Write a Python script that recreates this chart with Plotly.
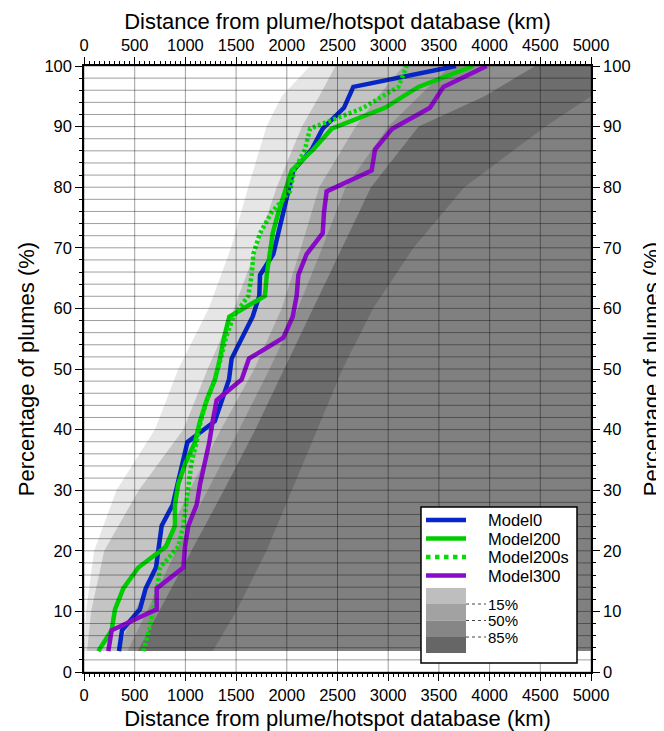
import plotly.graph_objects as go

# ---------------- data ----------------
PCT = [3.45, 6.90, 10.34, 13.79, 17.24, 20.69, 24.14, 27.59, 31.03, 34.48,
       37.93, 41.38, 44.83, 48.28, 51.72, 55.17, 58.62, 62.07, 65.52, 68.97,
       72.41, 75.86, 79.31, 82.76, 86.21, 89.66, 93.10, 96.55, 100.0]

MODEL0 = [345, 375, 552, 608, 710, 743, 766, 875, 925, 975,
          1020, 1290, 1358, 1430, 1456, 1565, 1663, 1729, 1736, 1867,
          1917, 1959, 2015, 2064, 2245, 2354, 2564, 2656, 3669]
MODEL200 = [141, 273, 306, 388, 536, 809, 897, 897, 930, 1000,
            1095, 1144, 1210, 1292, 1341, 1381, 1433, 1785, 1802, 1828,
            1861, 1917, 1982, 2048, 2261, 2442, 2968, 3297, 3839]
MODEL200S = [585, 641, 684, 723, 750, 930, 980, 1006, 1030, 1060,
             1111, 1151, 1210, 1292, 1348, 1400, 1473, 1620, 1654, 1670,
             1736, 1851, 2031, 2074, 2179, 2229, 2755, 3100, 3183]
MODEL300 = [240, 273, 717, 717, 980, 996, 1029, 1111, 1145, 1190,
            1236, 1269, 1308, 1555, 1627, 1966, 2058, 2097, 2114, 2196,
            2354, 2367, 2393, 2837, 2870, 3040, 3412, 3544, 3971]

# random-model envelope: left edges of the shaded bands at these percentages
BAND_Y = [3.45, 10, 20, 30, 40, 50, 60, 70, 80, 90, 95, 100]
EDGE_FAINT = [0, 20, 100, 320, 700, 930, 1230, 1450, 1620, 1800, 1950, 2230]
EDGE_LIGHT = [30, 70, 200, 540, 980, 1220, 1480, 1700, 1900, 2150, 2320, 2480]
EDGE_P15 = [330, 500, 760, 1040, 1350, 1680, 1950, 2140, 2320, 2680, 2900, 3150]
EDGE_P50 = [430, 620, 910, 1220, 1530, 1830, 2110, 2350, 2580, 3000, 3300, 3610]
EDGE_P85 = [530, 740, 1060, 1380, 1690, 1975, 2260, 2540, 2830, 3300, 3950, 4450]
EDGE_DENSE_END = [1270, 1500, 1800, 2050, 2300, 2550, 2850, 3250, 3750, 4550, 5000, 5000]

X_TICKS = [0, 500, 1000, 1500, 2000, 2500, 3000, 3500, 4000, 4500, 5000]
Y_TICKS = [0, 10, 20, 30, 40, 50, 60, 70, 80, 90, 100]
X_RANGE = [0, 5000]
Y_RANGE = [0, 100]

SERIES = [
    ("Model0", MODEL0, "#0626c8", "solid"),
    ("Model200", MODEL200, "#00cc00", "solid"),
    ("Model200s", MODEL200S, "#00dd00", "3px,2.5px"),
    ("Model300", MODEL300, "#8a0cc8", "solid"),
]
BAND_LABELS = ["15%", "50%", "85%"]

# ---------------- figure ----------------
FONT = "Liberation Sans, Arial, Helvetica, sans-serif"
fig = go.Figure()

xmax = X_RANGE[1]
bands = [
    (EDGE_FAINT, "#e6e6e6"),
    (EDGE_LIGHT, "#c4c4c4"),
    (EDGE_P15, "#a7a7a7"),
    (EDGE_P50, "#8e8e8e"),
    (EDGE_P85, "#6d6d6d"),
    (EDGE_DENSE_END, "#808080"),
]
for edge, col in bands:
    fig.add_trace(go.Scatter(
        x=list(edge) + [xmax, xmax], y=list(BAND_Y) + [BAND_Y[-1], BAND_Y[0]],
        fill="toself", fillcolor=col, mode="lines", line=dict(width=0),
        hoverinfo="skip", showlegend=False))

# grid lines (drawn over the shading)
y_grid = list(range(Y_RANGE[0], Y_RANGE[1] + 1, 2))
gx, gy = [], []
for v in y_grid:
    gx += [X_RANGE[0], X_RANGE[1], None]
    gy += [v, v, None]
fig.add_trace(go.Scatter(x=gx, y=gy, mode="lines", yaxis="y2",
                         line=dict(color="rgba(0,0,0,0.38)", width=1),
                         hoverinfo="skip", showlegend=False))
vx, vy = [], []
for v in X_TICKS:
    vx += [v, v, None]
    vy += [Y_RANGE[0], Y_RANGE[1], None]
fig.add_trace(go.Scatter(x=vx, y=vy, mode="lines", xaxis="x2",
                         line=dict(color="rgba(0,0,0,0.38)", width=1),
                         hoverinfo="skip", showlegend=False))

for name, xs, col, dash in SERIES:
    fig.add_trace(go.Scatter(x=xs, y=PCT, mode="lines", name=name,
                             line=dict(color=col, width=4.5, dash=dash),
                             showlegend=False))

# ---------------- custom legend ----------------
def px_x(p):
    return (p - 84) / 507.0

def px_y(p):
    return (672 - p) / 606.0

shapes = [dict(type="rect", xref="paper", yref="paper",
               x0=px_x(421), x1=px_x(577), y0=px_y(663), y1=px_y(507),
               fillcolor="white", line=dict(color="black", width=1.5))]
annotations = []
row_y = [520, 538.5, 557, 575.5]
for (name, xs, col, dash), ry in zip(SERIES, row_y):
    shapes.append(dict(type="line", xref="paper", yref="paper",
                       x0=px_x(426), x1=px_x(466), y0=px_y(ry), y1=px_y(ry),
                       line=dict(color=col, width=4.5,
                                 dash="dot" if dash != "solid" else "solid")))
    annotations.append(dict(xref="paper", yref="paper", x=px_x(486), y=px_y(ry),
                            text=name, showarrow=False, xanchor="left",
                            yanchor="middle", height=18,
                            font=dict(size=16.5, color="black")))
box_edges = [588, 604, 620.5, 637, 653]
box_cols = ["#bebebe", "#a2a2a2", "#868686", "#666666"]
for i, col in enumerate(box_cols):
    shapes.append(dict(type="rect", xref="paper", yref="paper",
                       x0=px_x(426), x1=px_x(466), y0=px_y(box_edges[i + 1]),
                       y1=px_y(box_edges[i]), fillcolor=col, line=dict(width=0)))
for lab, by in zip(BAND_LABELS, box_edges[1:4]):
    shapes.append(dict(type="line", xref="paper", yref="paper",
                       x0=px_x(466), x1=px_x(486), y0=px_y(by), y1=px_y(by),
                       line=dict(color="#444444", width=1, dash="dot")))
    annotations.append(dict(xref="paper", yref="paper", x=px_x(486), y=px_y(by),
                            text=lab, showarrow=False, xanchor="left",
                            yanchor="middle", height=15,
                            font=dict(size=15, color="black")))

# ---------------- axes ----------------
def xaxis_def(side, standoff):
    return dict(range=X_RANGE, tickvals=X_TICKS, ticks="outside", ticklen=7,
                tickwidth=1, tickcolor="black", showline=True, linecolor="black",
                linewidth=1.5, showgrid=False, zeroline=False, side=side,
                tickfont=dict(size=16.5, color="black", family=FONT),
                minor=dict(dtick=50, ticks="outside", ticklen=3, tickwidth=1,
                           tickcolor="black", showgrid=False),
                title=dict(text="Distance from plume/hotspot database (km)",
                           font=dict(size=22, color="black", family=FONT),
                           standoff=standoff),
                automargin=False, fixedrange=True)

def yaxis_def(side, standoff):
    return dict(range=Y_RANGE, tickvals=Y_TICKS, ticks="outside", ticklen=7,
                tickwidth=1, tickcolor="black", showline=True, linecolor="black",
                linewidth=1.5, showgrid=False, zeroline=False, side=side,
                tickfont=dict(size=16.5, color="black", family=FONT),
                minor=dict(dtick=2, ticks="outside", ticklen=3, tickwidth=1,
                           tickcolor="black", showgrid=False),
                title=dict(text="Percentage of plumes (%)",
                           font=dict(size=22, color="black", family=FONT),
                           standoff=standoff),
                automargin=False, fixedrange=True)

# the page body has an 8px margin, so the figure is sized to fit the window
fig.update_layout(
    width=656, height=723,
    margin=dict(l=76, r=73, t=58, b=59),
    paper_bgcolor="white", plot_bgcolor="white",
    font=dict(family=FONT, color="black"),
    showlegend=False,
    xaxis=dict(xaxis_def("bottom", 8), anchor="y"),
    xaxis2=dict(xaxis_def("top", 0), overlaying="x", anchor="y"),
    yaxis=dict(yaxis_def("left", 4), anchor="x"),
    yaxis2=dict(yaxis_def("right", 14), overlaying="y", anchor="x"),
    shapes=shapes, annotations=annotations,
)

fig.write_html("out.html")
